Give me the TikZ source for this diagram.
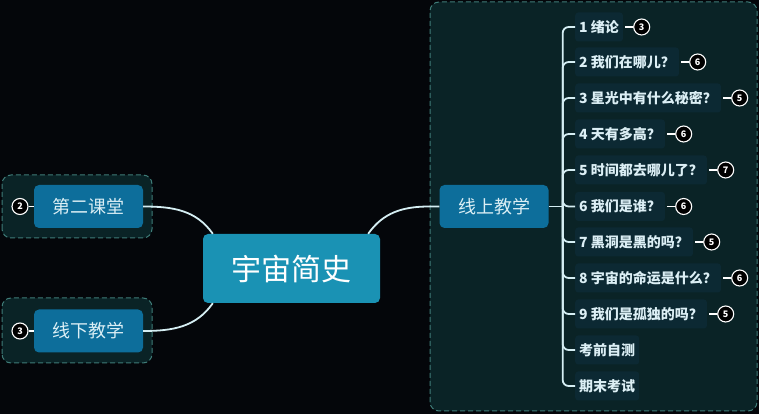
\documentclass[tikz,border=0pt]{standalone}
\usepackage{fontspec}
\setmainfont{Noto Sans CJK SC}
\usetikzlibrary{positioning,calc}
\definecolor{bgcol}{HTML}{04060A}
\definecolor{grpfill}{HTML}{0A2326}
\definecolor{grpline}{HTML}{3F7C78}
\definecolor{rootcol}{HTML}{1A92B4}
\definecolor{subcol}{HTML}{0D6E9B}
\definecolor{itemcol}{HTML}{0C2933}
\definecolor{itemtext}{HTML}{DCEFF5}
\definecolor{linkcol}{HTML}{D5EEF3}

\begin{document}
\begin{tikzpicture}[x=1pt, y=1pt,
	link/.style={draw=linkcol, line width=1.8pt},
	tickln/.style={draw=white, line width=1.3pt},
	grp/.style={draw=grpline, fill=grpfill, line width=1pt, dash pattern=on 5pt off 3pt, rounded corners=9pt},
	rootbox/.style={fill=rootcol, rounded corners=5pt, text=white, minimum width=177pt, minimum height=69pt, font=\fontsize{30}{32}\selectfont},
	subbox/.style={fill=subcol, rounded corners=5pt, text=itemtext, minimum width=109pt, minimum height=43pt, font=\fontsize{18}{20}\selectfont},
	item/.style={fill=itemcol, rounded corners=3pt, text=itemtext, anchor=west, inner xsep=4pt, minimum height=29pt, font=\fontsize{14}{16}\selectfont\bfseries},
	badge/.style={circle, draw=white, fill=black, line width=1.1pt, minimum size=16pt, inner sep=0pt, text=white, font=\fontsize{9}{9}\selectfont\bfseries},
	node distance=10pt]
	\fill[bgcol] (0,0) rectangle (759,414);
	% dashed groups
	\draw[grp] (2,176) rectangle (152,239);
	\draw[grp] (2,51) rectangle (152,116);
	\draw[grp] (430,3) rectangle (757,412);

	\node[rootbox] (root) at (291.5,145.5) {宇宙简史};
	\node[subbox] (dier) at (88.5,207.5) {第二课堂};
	\node[subbox] (xianxia) at (88.5,83) {线下教学};
	\node[subbox] (xianshang) at (494,207.5) {线上教学};
	\node[badge] (bdier) at (20,207.5) {2};
	\node[badge] (bxianxia) at (20,83) {3};
	\draw[tickln] (bdier) -- (dier.west);
	\draw[tickln] (bxianxia) -- (xianxia.west);

	% chapters
	\node[item] (c1) at (575,387) {1 绪论};
	\node[item] (c2) at (575,352) {2 我们在哪儿？};
	\node[item] (c3) at (575,316) {3 星光中有什么秘密？};
	\node[item] (c4) at (575,280) {4 天有多高？};
	\node[item] (c5) at (575,244) {5 时间都去哪儿了？};
	\node[item] (c6) at (575,207.5) {6 我们是谁？};
	\node[item] (c7) at (575,172) {7 黑洞是黑的吗？};
	\node[item] (c8) at (575,136) {8 宇宙的命运是什么？};
	\node[item] (c9) at (575,100) {9 我们是孤独的吗？};
	\node[item] (ce) at (575,64) {考前自测};
	\node[item] (cf) at (575,28) {期末考试};
	\node[badge, right=of c1] (n1) {3};
	\node[badge, right=of c2] (n2) {6};
	\node[badge, right=of c3] (n3) {5};
	\node[badge, right=of c4] (n4) {6};
	\node[badge, right=of c5] (n5) {7};
	\node[badge, right=of c6] (n6) {6};
	\node[badge, right=of c7] (n7) {5};
	\node[badge, right=of c8] (n8) {6};
	\node[badge, right=of c9] (n9) {5};
	\foreach \c/\n in {c1/n1,c2/n2,c3/n3,c4/n4,c5/n5,c6/n6,c7/n7,c8/n8,c9/n9}
		\draw[tickln] ($(\c.east)+(2,0)$) -- (\n.west);

	% links
	\draw[link] (dier.east) to[out=0, in=125] ($(root.north west)+(10,0)$);
	\draw[link] (xianxia.east) to[out=0, in=-125] ($(root.south west)+(10,0)$);
	\draw[link] ($(root.north east)+(-12,0)$) to[out=55, in=180] ($(xianshang.west)+(-10,0)$) -- (xianshang.west);
	\coordinate (trunk) at ($(xianshang.east)+(14,0)$);
	\draw[link] (xianshang.east) -- (trunk);
	\foreach \c in {c1,c2,c3,c4,c5,c6,c7,c8,c9,ce,cf}
		\draw[link, rounded corners=6pt] (trunk) |- (\c.west);
\end{tikzpicture}
\end{document}
